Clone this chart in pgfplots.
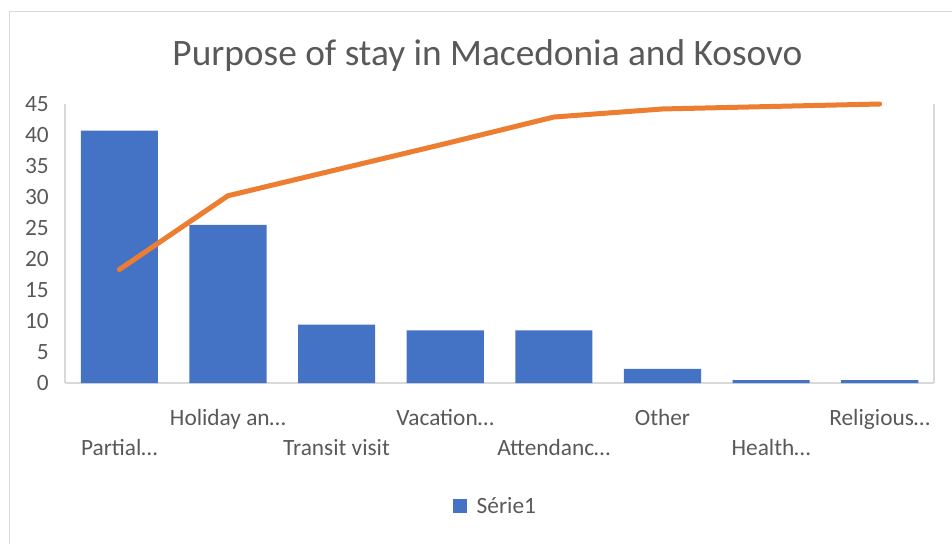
\documentclass[border=0pt]{standalone}
\usepackage{fontspec}
\setmainfont{Carlito}
\usepackage{pgfplots}
\pgfplotsset{compat=1.18}
\definecolor{barblue}{RGB}{68,114,196}
\definecolor{lineorange}{RGB}{237,125,49}
\definecolor{txtgray}{RGB}{89,89,89}
\definecolor{axgray}{RGB}{217,217,217}
\begin{document}
\begin{tikzpicture}
\path[use as bounding box] (0,0) rectangle (714pt,-408pt);
\draw[axgray, line width=0.8pt] (7.1pt,-408pt) -- (7.1pt,-8.6pt) -- (714pt,-8.6pt);
\node[anchor=base, text=txtgray, font=\fontsize{28}{32}\selectfont, inner sep=0pt] at (365.6pt,-48.75pt) {Purpose of stay in Macedonia and Kosovo};
\begin{axis}[
  at={(48.75pt,-287.25pt)}, anchor=south west,
  scale only axis, width=651.75pt, height=209.25pt,
  xmin=0.5, xmax=8.5, ymin=0, ymax=45,
  ytick={0,5,...,45},
  xtick={1,...,8},
  xticklabels={\raisebox{-22.5pt}{Partial…},Holiday an…,\raisebox{-22.5pt}{Transit visit},Vacation…,\raisebox{-22.5pt}{Attendanc…},Other,\raisebox{-22.5pt}{Health…},Religious…},
  major tick length=0pt,
  axis x line*=bottom, axis y line*=left,
  axis line style={axgray, line width=0.8pt},
  /pgf/number format/assume math mode=true,
  tick label style={text=txtgray, font=\fontsize{17.5}{20}\selectfont},
  yticklabel style={anchor=east, xshift=-12pt, inner sep=0pt},
  xticklabel style={anchor=north, text height=12pt, text depth=4pt, inner sep=0pt, yshift=-19.7pt},
  legend style={at={(0.496,-0.441)}, anchor=center, draw=none, fill=none, text=txtgray, font=\fontsize{17.5}{20}\selectfont, inner sep=0pt},
  legend image code/.code={\fill[barblue] (0pt,-5.25pt) rectangle (10.5pt,5.25pt);},
  clip=false,
]
\addplot[ybar, bar width=0.71, fill=barblue, draw=none] coordinates {
  (1,40.7) (2,25.5) (3,9.4) (4,8.5) (5,8.5) (6,2.3) (7,0.45) (8,0.45)
};
\addlegendentry{\hspace{5pt}Série1}
\addplot[lineorange, line width=3.75pt, line cap=round, line join=round, mark=none, forget plot] coordinates {
  (1,18.3) (2,30.2) (3,34.4) (4,38.6) (5,42.9) (6,44.2) (7,44.6) (8,45.0)
};
\draw[axgray, line width=0.8pt] (rel axis cs:1,0) -- (rel axis cs:1,1);
\end{axis}
\end{tikzpicture}
\end{document}
